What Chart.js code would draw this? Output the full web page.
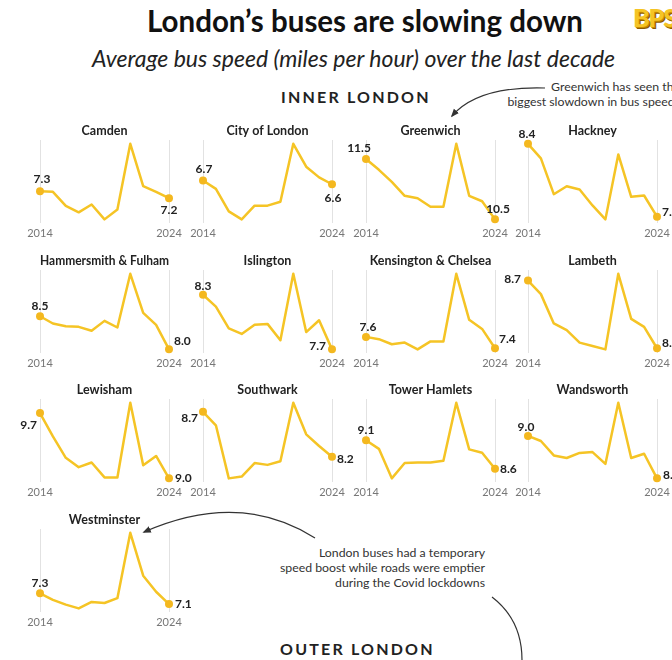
<!DOCTYPE html>
<html>
<head>
<meta charset="utf-8">
<script src="https://cdn.jsdelivr.net/npm/chart.js@4.4.1/dist/chart.umd.min.js"></script>
<style>
  body { margin: 0; background: #fff; }
  #page { position: relative; width: 672px; height: 660px; overflow: hidden; font-family: Lato, "Open Sans", sans-serif; color: #222; }
  #page canvas, .txt, svg { position: absolute; }
  .txt { white-space: nowrap; }
  #title { left: 147px; top: 3px; font-size: 29.5px; font-weight: 700; color: #111; }
  #subtitle { left: 92px; top: 44px; font-size: 23px; font-style: italic; color: #222; }
  .section { font-size: 16px; font-weight: 700; letter-spacing: 2.2px; color: #222; }
  #inner { left: 281px; top: 87px; }
  #outer { left: 280px; top: 639px; }
  .note { font-size: 12.3px; line-height: 15px; text-align: right; color: #333; }
  #noteGreenwich { right: -8px; top: 79px; }
  #noteCovid { right: 187px; top: 545px; }
  #logo { left: 633px; top: 2px; font-size: 25px; font-weight: 900; color: #f5c425; text-shadow: 1px 1px 0 #c58a00, 2px 2px 0 #8a5a00; letter-spacing: -1px; }
</style>
</head>
<body>
<div id="page">
  <div class="txt" id="title">London’s buses are slowing down</div>
  <div class="txt" id="subtitle">Average bus speed (miles per hour) over the last decade</div>
  <div class="txt section" id="inner">INNER LONDON</div>
  <div class="txt section" id="outer">OUTER LONDON</div>
  <div class="txt note" id="noteGreenwich">Greenwich has seen the<br>biggest slowdown in bus speeds</div>
  <div class="txt note" id="noteCovid">London buses had a temporary<br>speed boost while roads were emptier<br>during the Covid lockdowns</div>
  <div class="txt" id="logo">BPS</div>
  <svg width="672" height="660" style="left:0;top:0">
    <defs>
      <marker id="head" viewBox="0 0 10 10" refX="8" refY="5" markerWidth="7" markerHeight="7" orient="auto">
        <path d="M0,1 L10,5 L0,9 z" fill="#333"/>
      </marker>
    </defs>
    <path d="M545 88 Q478 86 452 116" fill="none" stroke="#333" stroke-width="1.2" marker-end="url(#head)"/>
    <path d="M315 538 Q240 490 144 532" fill="none" stroke="#333" stroke-width="1.2" marker-end="url(#head)"/>
    <path d="M492 597 Q522 620 522 660" fill="none" stroke="#333" stroke-width="1.2"/>
  </svg>
</div>
<script>
// average bus speed, mph, 2014 to 2024
const years = ['2014', '2015', '2016', '2017', '2018', '2019', '2020', '2021', '2022', '2023', '2024'];

const camden = [7.3, 7.29, 7.09, 7.0, 7.11, 6.9, 7.04, 7.97, 7.37, 7.29, 7.2];
const cityOfLondon = [6.7, 6.48, 5.89, 5.68, 6.04, 6.04, 6.14, 7.66, 7.06, 6.78, 6.6];
const greenwich = [11.5, 11.32, 11.12, 10.89, 10.85, 10.71, 10.71, 11.75, 10.89, 10.8, 10.5];
const hackney = [8.4, 8.18, 7.64, 7.76, 7.71, 7.47, 7.26, 8.24, 7.6, 7.62, 7.3];
const hammersmithFulham = [8.5, 8.39, 8.35, 8.34, 8.28, 8.43, 8.33, 9.14, 8.55, 8.37, 8.0];
const islington = [8.3, 8.17, 7.93, 7.87, 7.97, 7.98, 7.8, 8.53, 7.89, 8.02, 7.7];
const kensingtonChelsea = [7.6, 7.56, 7.47, 7.5, 7.38, 7.52, 7.52, 8.71, 7.9, 7.74, 7.4];
const lambeth = [8.7, 8.58, 8.32, 8.26, 8.15, 8.12, 8.09, 8.76, 8.36, 8.29, 8.1];
const lewisham = [9.7, 9.45, 9.22, 9.12, 9.17, 9.01, 9.01, 9.81, 9.14, 9.24, 9.0];
const southwark = [8.7, 8.55, 7.96, 7.98, 8.13, 8.11, 8.15, 8.8, 8.45, 8.32, 8.2];
const towerHamlets = [9.1, 8.95, 8.43, 8.7, 8.71, 8.71, 8.74, 9.76, 8.94, 8.88, 8.6];
const wandsworth = [9.0, 8.94, 8.77, 8.74, 8.8, 8.81, 8.67, 9.39, 8.74, 8.79, 8.5];
const westminster = [7.3, 7.18, 7.09, 7.02, 7.14, 7.12, 7.21, 8.43, 7.63, 7.33, 7.1];

const boroughs = ['Camden', 'City of London', 'Greenwich', 'Hackney',
  'Hammersmith & Fulham', 'Islington', 'Kensington & Chelsea', 'Lambeth',
  'Lewisham', 'Southwark', 'Tower Hamlets', 'Wandsworth', 'Westminster'];
const speeds = [camden, cityOfLondon, greenwich, hackney, hammersmithFulham, islington,
  kensingtonChelsea, lambeth, lewisham, southwark, towerHamlets, wandsworth, westminster];

// where the first / last value label sits relative to its dot: [dx, dy, align]
const labelSpots = [
  [[2, -12, 'center'], [0, 12, 'center']],
  [[1, -11, 'center'], [1, 14, 'center']],
  [[-7, -11, 'center'], [3, -10, 'center']],
  [[-1, -10, 'center'], [5, -5, 'left']],
  [[0, -10, 'center'], [5, -8, 'left']],
  [[0, -9, 'center'], [-6, -3, 'right']],
  [[2, -10, 'center'], [4, -9, 'left']],
  [[-7, -1, 'right'], [5, -5, 'left']],
  [[-3, 12, 'right'], [6, 0, 'left']],
  [[-5, 6, 'right'], [5, 2, 'left']],
  [[0, -10, 'center'], [5, 0, 'left']],
  [[-2, -9, 'center'], [6, -3, 'left']],
  [[0, -10, 'center'], [6, 0, 'left']]
];

const colX = [40, 203, 366, 528];     // x of the 2014 gridline in each column
const rowTop = [140, 270, 399, 529];  // top of the gridlines in each row
const plotW = 129, side = 30, head = 22;
const lineColor = '#f5c425', dotColor = '#f4b81f';

const isEdge = i => i === 0 || i === years.length - 1;

const endLabels = {
  id: 'endLabels',
  afterDatasetsDraw(chart, args, opts) {
    const ctx = chart.ctx;
    const pts = chart.getDatasetMeta(0).data;
    const vals = chart.data.datasets[0].data;
    ctx.save();
    ctx.font = 'bold 12px Lato';
    ctx.fillStyle = '#222';
    ctx.textBaseline = 'middle';
    [0, vals.length - 1].forEach((i, k) => {
      const [dx, dy, align] = opts.spots[k];
      ctx.textAlign = align;
      ctx.fillText(vals[i].toFixed(1), pts[i].x + dx, pts[i].y + dy);
    });
    ctx.restore();
  }
};

const page = document.getElementById('page');

boroughs.forEach((name, n) => {
  const values = speeds[n];
  const col = n % 4, row = Math.floor(n / 4);
  const canvas = document.createElement('canvas');
  canvas.width = side * 2 + plotW;
  canvas.height = 127;
  canvas.style.left = (colX[col] - side) + 'px';
  canvas.style.top = (rowTop[row] - head) + 'px';
  page.appendChild(canvas);

  const lo = Math.min(...values), hi = Math.max(...values);
  const pad = (hi - lo) * 4 / 79;

  new Chart(canvas, {
    type: 'line',
    data: {
      labels: years,
      datasets: [{
        data: values,
        borderColor: lineColor,
        borderWidth: 2.5,
        borderJoinStyle: 'round',
        tension: 0,
        clip: false,
        pointRadius: c => isEdge(c.dataIndex) ? 4 : 0,
        pointHoverRadius: 0,
        pointBorderWidth: 0,
        pointBackgroundColor: dotColor
      }]
    },
    options: {
      responsive: false,
      animation: false,
      events: [],
      layout: { padding: { left: side, right: side, top: 0, bottom: 0.6 } },
      plugins: {
        legend: { display: false },
        tooltip: { enabled: false },
        title: {
          display: true,
          text: name,
          color: '#222',
          font: { family: 'Lato', size: 12.5, weight: 'bold' },
          padding: { top: 5, bottom: 2 }
        },
        endLabels: { spots: labelSpots[n] }
      },
      scales: {
        x: {
          border: { display: false },
          grid: {
            drawTicks: false,
            color: c => isEdge(c.index) ? '#e2e2e2' : 'rgba(0,0,0,0)'
          },
          ticks: {
            autoSkip: false,
            maxRotation: 0,
            minRotation: 0,
            padding: 4,
            color: '#777',
            font: { family: 'Lato', size: 11 },
            callback: (v, i) => isEdge(i) ? years[i] : ''
          }
        },
        y: { display: false, min: lo - pad, max: hi + pad }
      }
    },
    plugins: [endLabels]
  });
});
</script>
</body>
</html>
